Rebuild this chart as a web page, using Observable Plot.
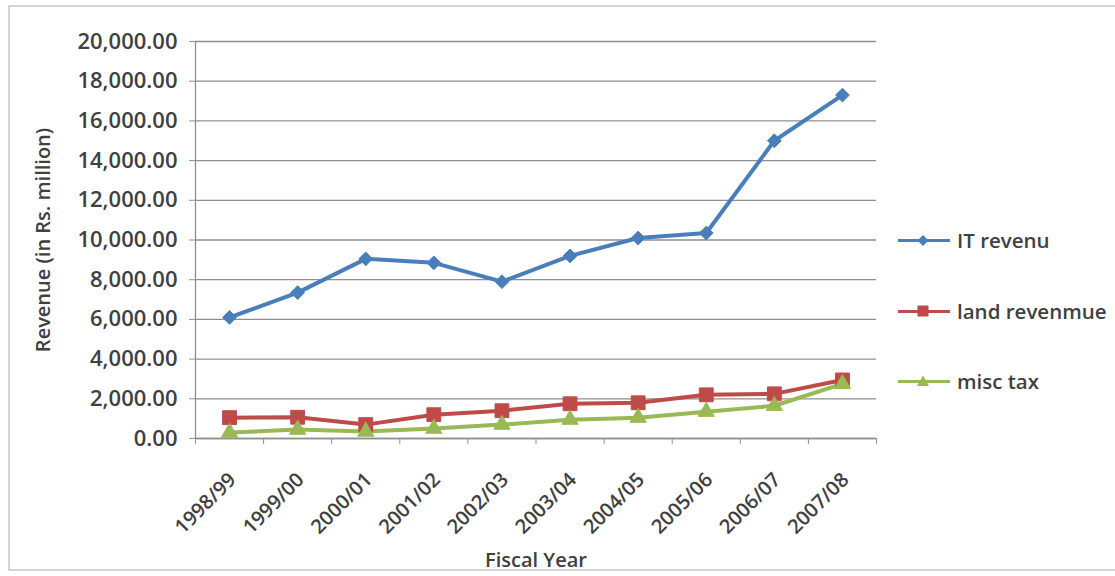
<!DOCTYPE html>
<html><head><meta charset="utf-8">
<script src="https://cdn.jsdelivr.net/npm/d3@7"></script>
<script src="https://cdn.jsdelivr.net/npm/@observablehq/plot@0.6"></script>
<style>
body{margin:0;background:#fff;}
#wrap{position:relative;width:1115px;height:576px;overflow:hidden;font-family:"Open Sans",sans-serif;color:#404040;}
#frame{position:absolute;left:8px;top:5px;width:1140px;height:566px;border:2px solid #d4d4d4;box-sizing:border-box;pointer-events:none;}
#chart{position:absolute;left:0;top:0;}
#legend{position:absolute;left:898px;top:0;}
.item{position:absolute;left:0;display:flex;align-items:center;white-space:nowrap;font-size:20.5px;font-weight:600;color:#404040;}
.item svg{margin-right:7px;}
</style></head><body><div id="wrap"><div id="chart"></div><div id="legend"></div><div id="frame"></div></div>
<script>
const categories = ["1998/99","1999/00","2000/01","2001/02","2002/03","2003/04","2004/05","2005/06","2006/07","2007/08"];
const itRevenue   = [6100, 7350, 9050, 8850, 7900, 9200, 10100, 10350, 15000, 17300];
const landRevenue = [1050, 1070,  700, 1200, 1400, 1750,  1800,  2200,  2250,  2950];
const miscTax     = [ 300,  450,  350,  500,  700,  950,  1050,  1350,  1650,  2750];
const seriesNames = ["IT revenu","land revenmue","misc tax"];
const seriesColors = ["#4A7EBB","#BE4B48","#98B954"];
const seriesSymbols = ["diamond2","square","triangle"];
const yTicks = d3.range(0, 20001, 2000);

const seriesValues = [itRevenue, landRevenue, miscTax];
const rows = [];
seriesNames.forEach((s, k) => seriesValues[k].forEach((v, i) => rows.push({series: s, i, value: v})));
const markerR = {"diamond2": 6.2, "square": 7.8, "triangle": 6};

const chart = Plot.plot({
  width: 1115,
  height: 576,
  marginLeft: 195,
  marginRight: 239,
  marginTop: 41,
  marginBottom: 138,
  style: {fontFamily: "Open Sans, sans-serif", color: "#404040", background: "transparent"},
  x: {type: "linear", domain: [-0.5, categories.length - 0.5]},
  y: {domain: [0, 20000]},
  color: {domain: seriesNames, range: seriesColors},
  symbol: {domain: seriesNames, range: seriesSymbols},
  marks: [
    Plot.gridY(yTicks, {stroke: "#8f8f8f", strokeOpacity: 1, strokeWidth: 1.3}),
    Plot.ruleX([-0.5], {stroke: "#8f8f8f", strokeWidth: 1.3}),
    Plot.ruleY([0], {stroke: "#8f8f8f", strokeWidth: 1.3}),
    Plot.axisY({ticks: yTicks, tickFormat: d3.format(",.2f"), tickSize: 6, tickPadding: 12,
      fontSize: 22, fontWeight: 600, stroke: "#8f8f8f",
      label: "Revenue (in Rs. million)", labelAnchor: "center", labelArrow: "none", labelOffset: 160}),
    Plot.axisX({ticks: d3.range(-0.5, categories.length), tickSize: 6, tickFormat: () => "", stroke: "#8f8f8f", label: null}),
    Plot.axisX({ticks: d3.range(categories.length), tickSize: 0, tickPadding: 38, dx: 3, tickRotate: -45,
      tickFormat: i => categories[i], fontSize: 20, fontWeight: 600,
      label: "Fiscal Year", labelAnchor: "center", labelArrow: "none", labelOffset: 128}),
    Plot.line(rows, {x: "i", y: "value", z: "series", stroke: "series", strokeWidth: 4}),
    ...seriesNames.map((s, k) => Plot.dot(rows.filter(d => d.series === s),
      {x: "i", y: "value", symbol: "series", fill: "series", stroke: "series", strokeWidth: 1, r: markerR[seriesSymbols[k]]}))
  ]
});
chart.querySelectorAll("g[aria-label='y-axis label'] text, g[aria-label='x-axis label'] text").forEach(t => {
  t.setAttribute("font-size", "20"); t.setAttribute("font-weight", "600");
});
document.getElementById("chart").appendChild(chart);

const legend = document.getElementById("legend");
const legendTops = [226, 297, 367];
const sym = {
  "diamond2": '<path d="M25,4 L30.5,9.5 L25,15 L19.5,9.5 Z"/>',
  "square": '<rect x="19.5" y="3.5" width="11" height="11"/>',
  "triangle": '<path d="M25,3.5 L31,14 L19,14 Z"/>'
};
seriesNames.forEach((s, k) => {
  const div = document.createElement("div");
  div.className = "item";
  div.style.top = legendTops[k] + "px";
  div.innerHTML = `<svg width="52" height="19"><line x1="0" x2="52" y1="9.5" y2="9.5" stroke="${seriesColors[k]}" stroke-width="3.2"/><g fill="${seriesColors[k]}">${sym[seriesSymbols[k]]}</g></svg><span>${s}</span>`;
  legend.appendChild(div);
});
</script></body></html>
